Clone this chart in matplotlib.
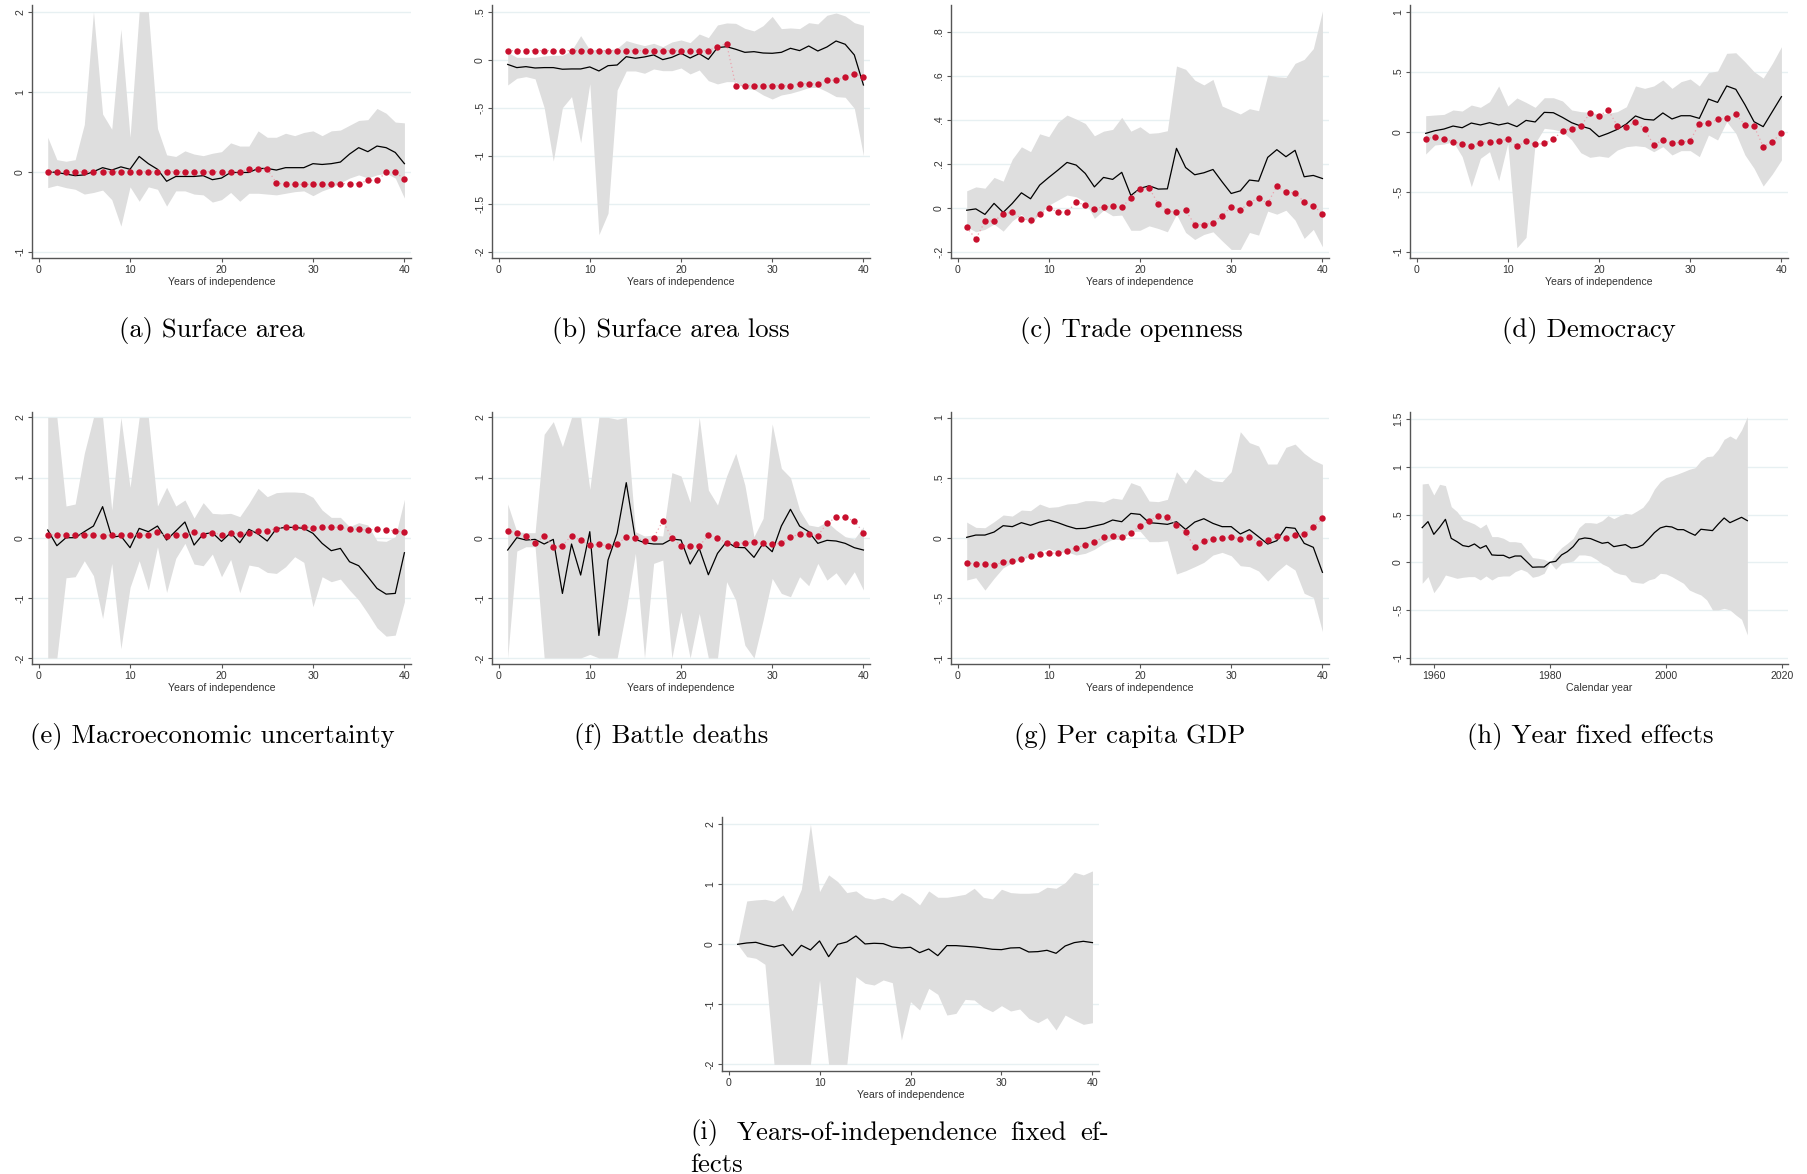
import numpy as np
import matplotlib
matplotlib.use("Agg")
import matplotlib.pyplot as plt

# ---------------------------------------------------------------------------
# Estimates by years of independence (1..40): black line = coefficient,
# grey band = 95% confidence interval, red dots = alternative specification.
# ---------------------------------------------------------------------------
years = np.arange(1, 41)
cal_years = np.arange(1958, 2015)

# (a) Surface area
area_coef = [0.0, -0.01, -0.03, -0.05, -0.04, 0.0, 0.05, 0.02, 0.06, 0.03,
             0.19, 0.1, 0.03, -0.12, -0.06, -0.06, -0.06, -0.05, -0.1, -0.08,
             -0.01, -0.01, -0.01, 0.04, 0.04, 0.02, 0.05, 0.05, 0.05, 0.1,
             0.09, 0.1, 0.12, 0.22, 0.3, 0.25, 0.32, 0.3, 0.24, 0.1]
area_hi = [0.43, 0.15, 0.13, 0.15, 0.59, 2.0, 0.72, 0.53, 1.78, 0.43,
           2.0, 2.0, 0.54, 0.21, 0.19, 0.26, 0.22, 0.2, 0.23, 0.25,
           0.36, 0.32, 0.32, 0.51, 0.43, 0.43, 0.48, 0.45, 0.49, 0.51,
           0.45, 0.51, 0.52, 0.58, 0.64, 0.65, 0.79, 0.73, 0.62, 0.61]
area_lo = [-0.2, -0.17, -0.2, -0.22, -0.28, -0.26, -0.23, -0.35, -0.68, -0.19,
           -0.37, -0.19, -0.22, -0.43, -0.24, -0.24, -0.28, -0.29, -0.38, -0.35,
           -0.26, -0.37, -0.27, -0.27, -0.28, -0.29, -0.27, -0.25, -0.24, -0.3,
           -0.24, -0.2, -0.14, -0.08, -0.04, -0.08, -0.04, -0.02, -0.08, -0.33]
area_alt = [0.0, 0.0, 0.0, 0.0, 0.0, 0.0, 0.0, 0.0, 0.0, 0.0,
            0.0, 0.0, 0.0, 0.0, 0.0, 0.0, 0.0, 0.0, 0.0, 0.0,
            0.0, 0.0, 0.033, 0.033, 0.033, -0.14, -0.16, -0.16, -0.16, -0.16,
            -0.16, -0.16, -0.15, -0.15, -0.15, -0.11, -0.11, -0.01, -0.01, -0.09]

# (b) Surface area loss
loss_coef = [-0.05, -0.083, -0.073, -0.087, -0.083, -0.083, -0.1, -0.097, -0.097, -0.076,
             -0.118, -0.063, -0.056, 0.031, 0.014, 0.028, 0.049, 0.0, 0.024, 0.066,
             0.017, 0.062, 0.003, 0.125, 0.135, 0.108, 0.076, 0.083, 0.069, 0.066,
             0.076, 0.118, 0.094, 0.142, 0.09, 0.132, 0.194, 0.16, 0.049, -0.264]
loss_hi = [0.076, 0.024, 0.024, 0.024, 0.038, 0.045, 0.045, 0.094, 0.25, 0.1,
           0.104, 0.1, 0.118, 0.198, 0.17, 0.146, 0.17, 0.135, 0.184, 0.205,
           0.177, 0.267, 0.229, 0.361, 0.382, 0.378, 0.326, 0.299, 0.354, 0.45,
           0.323, 0.33, 0.323, 0.385, 0.372, 0.462, 0.486, 0.455, 0.385, 0.358]
loss_lo = [-0.264, -0.194, -0.177, -0.2, -0.5, -1.056, -0.5, -0.385, -0.865, -0.25,
           -1.823, -1.6, -0.316, -0.118, -0.118, -0.142, -0.097, -0.115, -0.115, -0.087,
           -0.149, -0.108, -0.219, -0.253, -0.229, -0.229, -0.3, -0.31, -0.368, -0.41,
           -0.368, -0.35, -0.323, -0.292, -0.288, -0.333, -0.385, -0.392, -0.507, -1.0]
loss_alt = [0.094, 0.094, 0.094, 0.094, 0.094, 0.094, 0.094, 0.094, 0.094, 0.094,
            0.094, 0.094, 0.094, 0.094, 0.094, 0.094, 0.094, 0.094, 0.094, 0.094,
            0.094, 0.094, 0.094, 0.135, 0.167, -0.27, -0.27, -0.27, -0.27, -0.27,
            -0.27, -0.27, -0.25, -0.25, -0.25, -0.215, -0.215, -0.18, -0.146, -0.18]

# (c) Trade openness
trade_coef = [-0.011, -0.005, -0.03, 0.02, -0.021, 0.02, 0.068, 0.041, 0.103, 0.138,
              0.171, 0.206, 0.194, 0.156, 0.095, 0.138, 0.129, 0.161, 0.056, 0.088,
              0.1, 0.085, 0.086, 0.27, 0.183, 0.15, 0.159, 0.174, 0.118, 0.065,
              0.077, 0.126, 0.121, 0.229, 0.264, 0.232, 0.261, 0.141, 0.147, 0.133]
trade_hi = [0.077, 0.095, 0.089, 0.138, 0.121, 0.221, 0.277, 0.255, 0.336, 0.323,
            0.388, 0.421, 0.403, 0.383, 0.327, 0.348, 0.356, 0.411, 0.348, 0.368,
            0.338, 0.341, 0.35, 0.644, 0.629, 0.58, 0.558, 0.583, 0.462, 0.444,
            0.426, 0.45, 0.441, 0.603, 0.595, 0.592, 0.656, 0.674, 0.723, 0.894]
trade_lo = [-0.086, -0.109, -0.098, -0.074, -0.106, -0.059, -0.029, -0.076, -0.026, 0.012,
            0.035, 0.058, 0.05, 0.027, -0.048, -0.011, -0.036, -0.033, -0.102, -0.102,
            -0.082, -0.094, -0.109, -0.03, -0.112, -0.144, -0.121, -0.109, -0.15, -0.189,
            -0.189, -0.112, -0.124, -0.015, -0.029, -0.011, -0.056, -0.139, -0.098, -0.177]
trade_alt = [-0.088, -0.142, -0.062, -0.059, -0.03, -0.018, -0.05, -0.055, -0.03, -0.003,
             -0.018, -0.021, 0.026, 0.012, -0.005, 0.005, 0.006, 0.002, 0.045, 0.086,
             0.091, 0.017, -0.015, -0.02, -0.012, -0.076, -0.077, -0.068, -0.036, 0.005,
             -0.011, 0.024, 0.044, 0.02, 0.098, 0.07, 0.068, 0.026, 0.009, -0.026]

# (d) Democracy
demo_coef = [-0.014, 0.008, 0.022, 0.047, 0.033, 0.072, 0.056, 0.075, 0.056, 0.072,
             0.042, 0.094, 0.081, 0.161, 0.158, 0.119, 0.075, 0.047, 0.025, -0.042,
             -0.014, 0.019, 0.064, 0.131, 0.103, 0.097, 0.156, 0.106, 0.133, 0.133,
             0.111, 0.272, 0.244, 0.381, 0.353, 0.225, 0.083, 0.042, 0.167, 0.292]
demo_hi = [0.133, 0.139, 0.144, 0.181, 0.172, 0.222, 0.203, 0.25, 0.381, 0.214,
           0.281, 0.244, 0.203, 0.283, 0.283, 0.256, 0.181, 0.167, 0.161, 0.147,
           0.153, 0.167, 0.208, 0.381, 0.361, 0.381, 0.431, 0.361, 0.417, 0.439,
           0.381, 0.492, 0.506, 0.653, 0.658, 0.583, 0.5, 0.447, 0.569, 0.708]
demo_lo = [-0.186, -0.111, -0.103, -0.083, -0.208, -0.458, -0.222, -0.167, -0.408, -0.097,
           -0.967, -0.881, -0.097, 0.028, 0.019, 0.0, -0.069, -0.175, -0.214, -0.203,
           -0.214, -0.153, -0.125, -0.117, -0.125, -0.167, -0.125, -0.194, -0.158, -0.158,
           -0.208, -0.028, -0.069, 0.083, -0.014, -0.194, -0.306, -0.453, -0.353, -0.236]
demo_alt = [-0.061, -0.042, -0.064, -0.083, -0.103, -0.117, -0.092, -0.083, -0.078, -0.064,
            -0.122, -0.081, -0.106, -0.097, -0.064, 0.008, 0.025, 0.047, 0.153, 0.128,
            0.183, 0.05, 0.036, 0.083, 0.019, -0.111, -0.069, -0.094, -0.089, -0.075,
            0.067, 0.069, 0.103, 0.111, 0.144, 0.056, 0.047, -0.125, -0.086, -0.008]

# (e) Macroeconomic uncertainty
macro_coef = [0.128, -0.133, 0.0, 0.0, 0.1, 0.194, 0.516, 0.011, 0.028, -0.166,
              0.155, 0.1, 0.194, -0.039, 0.111, 0.261, -0.122, 0.061, 0.083, -0.061,
              0.083, -0.083, 0.139, 0.061, -0.055, 0.15, 0.172, 0.172, 0.155, 0.072,
              -0.094, -0.216, -0.178, -0.4, -0.466, -0.649, -0.843, -0.938, -0.926, -0.25]
macro_hi = [2.0, 2.0, 0.527, 0.56, 1.404, 2.0, 2.0, 0.46, 2.0, 0.838,
            2.0, 2.0, 0.527, 0.838, 0.527, 0.627, 0.327, 0.583, 0.405, 0.394,
            0.405, 0.35, 0.571, 0.821, 0.682, 0.749, 0.76, 0.76, 0.749, 0.671,
            0.46, 0.338, 0.338, 0.183, 0.25, 0.211, -0.05, -0.061, 0.017, 0.638]
macro_lo = [-2.0, -2.0, -0.666, -0.649, -0.383, -0.632, -1.343, -0.427, -1.847, -0.827,
            -0.383, -0.871, -0.15, -0.91, -0.344, -0.094, -0.438, -0.466, -0.272, -0.649,
            -0.361, -0.915, -0.455, -0.483, -0.577, -0.594, -0.483, -0.316, -0.41, -1.148,
            -0.649, -0.732, -0.688, -0.871, -1.037, -1.259, -1.498, -1.637, -1.62, -1.065]
macro_alt = [0.039, 0.05, 0.05, 0.039, 0.05, 0.039, 0.028, 0.05, 0.05, 0.039,
             0.05, 0.039, 0.094, 0.022, 0.05, 0.05, 0.094, 0.05, 0.083, 0.05,
             0.083, 0.067, 0.083, 0.111, 0.117, 0.15, 0.183, 0.183, 0.183, 0.166,
             0.183, 0.172, 0.172, 0.139, 0.139, 0.128, 0.144, 0.133, 0.111, 0.094]

# (f) Battle deaths
battle_coef = [-0.205, 0.0, -0.039, -0.028, -0.105, -0.028, -0.927, -0.105, -0.621, 0.1,
               -1.626, -0.372, 0.072, 0.915, -0.028, -0.083, -0.105, -0.105, -0.022, -0.039,
               -0.438, -0.178, -0.616, -0.261, -0.067, -0.161, -0.166, -0.327, -0.094, -0.233,
               0.194, 0.472, 0.194, 0.1, -0.094, -0.044, -0.055, -0.094, -0.166, -0.205]
battle_hi = [0.56, 0.1, 0.083, 0.083, 1.72, 1.93, 1.515, 2.0, 2.0, 0.804,
             2.0, 2.0, 1.97, 2.0, 0.1, 0.028, 0.044, 0.028, 1.082, 1.026,
             0.588, 2.0, 0.793, 0.544, 1.026, 1.404, 0.877, 0.017, 0.322, 1.892,
             1.154, 0.999, 0.46, 0.211, 0.183, 0.266, 0.128, 0.017, -0.022, 0.183]
battle_lo = [-2.0, -0.222, -0.15, -0.15, -2.0, -2.0, -2.0, -2.0, -2.0, -1.94,
             -2.0, -2.0, -2.0, -1.2, -0.26, -2.0, -0.427, -0.372, -2.0, -1.232,
             -2.0, -1.26, -2.0, -2.0, -0.732, -1.037, -1.786, -2.0, -1.37, -0.677,
             -0.926, -0.982, -0.649, -0.799, -0.427, -0.705, -0.583, -0.788, -0.566, -0.871]
battle_alt = [0.111, 0.083, 0.028, -0.083, 0.022, -0.15, -0.133, 0.033, -0.044, -0.128,
              -0.111, -0.139, -0.111, 0.017, 0.0, -0.055, 0.0, 0.277, 0.0, -0.133,
              -0.133, -0.139, 0.039, 0.0, -0.094, -0.105, -0.083, -0.072, -0.094, -0.105,
              -0.094, 0.017, 0.055, 0.055, 0.033, 0.239, 0.338, 0.338, 0.277, 0.083]

# (g) Per capita GDP
gdp_coef = [0.003, 0.022, 0.022, 0.047, 0.1, 0.092, 0.125, 0.103, 0.13, 0.147,
            0.125, 0.097, 0.075, 0.078, 0.097, 0.114, 0.147, 0.133, 0.202, 0.194,
            0.125, 0.119, 0.111, 0.133, 0.069, 0.13, 0.158, 0.119, 0.092, 0.092,
            0.031, 0.067, 0.008, -0.053, -0.025, 0.086, 0.078, -0.047, -0.08, -0.288]
gdp_hi = [0.13, 0.086, 0.083, 0.133, 0.189, 0.18, 0.23, 0.225, 0.28, 0.252,
          0.258, 0.28, 0.286, 0.308, 0.308, 0.297, 0.33, 0.319, 0.458, 0.43,
          0.305, 0.3, 0.319, 0.549, 0.452, 0.571, 0.513, 0.474, 0.466, 0.549,
          0.882, 0.791, 0.763, 0.613, 0.613, 0.752, 0.779, 0.702, 0.646, 0.61]
gdp_lo = [-0.352, -0.333, -0.436, -0.338, -0.25, -0.208, -0.18, -0.158, -0.117, -0.089,
          -0.122, -0.117, -0.144, -0.13, -0.097, -0.047, -0.014, -0.014, 0.05, 0.055,
          -0.033, -0.033, -0.025, -0.302, -0.275, -0.241, -0.205, -0.144, -0.122, -0.15,
          -0.233, -0.241, -0.277, -0.361, -0.283, -0.219, -0.269, -0.463, -0.497, -0.782]
gdp_alt = [-0.211, -0.216, -0.222, -0.227, -0.205, -0.191, -0.175, -0.15, -0.133, -0.125,
           -0.13, -0.111, -0.083, -0.064, -0.039, 0.008, 0.017, 0.008, 0.036, 0.1,
           0.139, 0.183, 0.175, 0.105, 0.044, -0.078, -0.025, -0.011, 0.0, 0.003,
           -0.008, 0.008, -0.044, -0.019, 0.014, 0.0, 0.019, 0.028, 0.086, 0.161]

# (h) Year fixed effects, 1958-2014
yfe_coef = [0.363, 0.426, 0.293, 0.366, 0.45, 0.251, 0.216, 0.175, 0.164, 0.192,
            0.147, 0.175, 0.077, 0.073, 0.073, 0.045, 0.066, 0.066, 0.007, -0.052,
            -0.049, -0.049, 0.0, 0.01, 0.077, 0.112, 0.164, 0.241, 0.255, 0.248,
            0.223, 0.199, 0.209, 0.164, 0.175, 0.185, 0.15, 0.157, 0.182, 0.244,
            0.311, 0.36, 0.377, 0.37, 0.342, 0.342, 0.311, 0.283, 0.346, 0.339,
            0.332, 0.401, 0.464, 0.415, 0.443, 0.471, 0.436]
yfe_hi = [0.82, 0.827, 0.705, 0.817, 0.803, 0.583, 0.531, 0.45, 0.426, 0.401,
          0.36, 0.401, 0.269, 0.269, 0.251, 0.216, 0.216, 0.206, 0.129, 0.049,
          0.042, 0.031, 0.0, 0.087, 0.154, 0.199, 0.251, 0.363, 0.415, 0.415,
          0.408, 0.436, 0.489, 0.457, 0.489, 0.513, 0.503, 0.538, 0.576, 0.653,
          0.768, 0.845, 0.887, 0.904, 0.925, 0.949, 0.974, 0.991, 1.065, 1.106,
          1.113, 1.183, 1.288, 1.323, 1.288, 1.386, 1.525]
yfe_lo = [-0.22, -0.15, -0.318, -0.237, -0.133, -0.15, -0.168, -0.157, -0.15, -0.15,
          -0.185, -0.143, -0.185, -0.15, -0.143, -0.143, -0.098, -0.073, -0.098, -0.157,
          -0.143, -0.115, 0.0, -0.073, -0.01, 0.0, 0.014, 0.077, 0.077, 0.066,
          0.031, -0.017, -0.045, -0.098, -0.122, -0.133, -0.202, -0.213, -0.22, -0.185,
          -0.168, -0.115, -0.122, -0.15, -0.185, -0.22, -0.29, -0.318, -0.342, -0.394,
          -0.499, -0.499, -0.482, -0.499, -0.551, -0.597, -0.761]

# (i) Years-of-independence fixed effects
ife_coef = [0.0, 0.022, 0.033, -0.011, -0.044, -0.006, -0.189, -0.017, -0.094, 0.056,
            -0.206, 0.0, 0.039, 0.139, 0.006, 0.017, 0.011, -0.044, -0.061, -0.05,
            -0.139, -0.078, -0.189, -0.022, -0.022, -0.033, -0.044, -0.061, -0.083, -0.089,
            -0.061, -0.056, -0.128, -0.122, -0.1, -0.15, -0.028, 0.028, 0.05, 0.028]
ife_hi = [0.0, 0.722, 0.739, 0.75, 0.717, 0.822, 0.556, 0.917, 2.0, 0.878,
          1.156, 1.044, 0.861, 0.889, 0.778, 0.75, 0.783, 0.728, 0.861, 0.783,
          0.656, 0.889, 0.783, 0.783, 0.806, 0.833, 0.933, 0.783, 0.756, 0.917,
          0.861, 0.85, 0.85, 0.861, 0.95, 0.933, 1.028, 1.2, 1.156, 1.222]
ife_lo = [0.0, -0.206, -0.233, -0.333, -2.0, -2.0, -2.0, -2.0, -2.0, -0.594,
          -2.0, -2.0, -2.0, -0.539, -0.65, -0.678, -0.594, -0.639, -1.594, -0.956,
          -1.094, -0.733, -0.833, -1.178, -1.15, -0.917, -0.928, -1.05, -1.122, -1.022,
          -1.111, -1.078, -1.233, -1.306, -1.222, -1.428, -1.178, -1.261, -1.333, -1.306]

# Axis ticks for each panel
ticks_a = [-1, 0, 1, 2]
ticks_b = [-2, -1.5, -1, -0.5, 0, 0.5]
ticks_c = [-0.2, 0, 0.2, 0.4, 0.6, 0.8]
ticks_d = [-1, -0.5, 0, 0.5, 1]
ticks_e = [-2, -1, 0, 1, 2]
ticks_h = [-1, -0.5, 0, 0.5, 1, 1.5]
xticks_ind = [0, 10, 20, 30, 40]
xticks_cal = [1960, 1980, 2000, 2020]

captions = ["(a) Surface area", "(b) Surface area loss", "(c) Trade openness",
            "(d) Democracy", "(e) Macroeconomic uncertainty", "(f) Battle deaths",
            "(g) Per capita GDP", "(h) Year fixed effects"]
caption_i_line1 = ["(i)", "Years-of-independence", "fixed", "ef-"]
caption_i_line2 = "fects"

# ---------------------------------------------------------------------------
W, H = 1807, 1174
fig = plt.figure(figsize=(W / 100, H / 100), dpi=100)
fig.patch.set_facecolor("white")

BAND = "#dedede"
RED = "#c8102e"
PINK = "#eba3ae"
GRID = "#e7f0f2"
SPINE = "#555555"
TXT = "#333333"
SANS = ["Liberation Sans", "DejaVu Sans"]
SERIF = ["cmr10", "DejaVu Serif"]


def stata_label(v):
    s = f"{v:g}"
    if s.startswith("0.") and v != 0:
        s = s[1:]
    elif s.startswith("-0."):
        s = "-" + s[2:]
    return s


def panel(box, x, coef, lo, hi, alt, yticks, ylim, xticks, xlim, xlabel):
    left, top, right, bottom = box
    ax = fig.add_axes([left / W, 1 - bottom / H, (right - left) / W, (bottom - top) / H])
    ax.set_facecolor("white")
    ax.fill_between(x, lo, hi, color=BAND, lw=0, zorder=1)
    ax.plot(x, coef, color="black", lw=0.9, zorder=3)
    if alt is not None:
        ax.plot(x, alt, color=PINK, lw=0.9, ls=(0, (1, 2.2)), zorder=4)
        ax.plot(x, alt, ls="none", marker="o", ms=4.6, mfc=RED, mec=RED, mew=0, zorder=5)
    ax.set_xlim(*xlim)
    ax.set_ylim(*ylim)
    ax.set_yticks(yticks)
    ax.set_yticklabels([stata_label(t) for t in yticks])
    ax.set_xticks(xticks)
    ax.set_xticklabels([str(t) for t in xticks])
    ax.grid(axis="y", color=GRID, lw=1.0, zorder=0)
    ax.set_axisbelow(True)
    for side in ("top", "right"):
        ax.spines[side].set_visible(False)
    for side in ("left", "bottom"):
        ax.spines[side].set_color(SPINE)
        ax.spines[side].set_linewidth(1.0)
    ax.tick_params(direction="out", length=3, width=0.8, color=SPINE,
                   labelsize=7.6, labelcolor=TXT, pad=2)
    for lab in ax.get_yticklabels():
        lab.set_rotation(90)
        lab.set_va("center")
        lab.set_ha("right")
        lab.set_family(SANS)
    for lab in ax.get_xticklabels():
        lab.set_family(SANS)
    ax.set_xlabel(xlabel, fontsize=7.6, color=TXT, family=SANS, labelpad=1.5)
    return ax


XL_IND = (-0.72, 40.72)
XL_CAL = (1955.9, 2021.0)
XLAB = "Years of independence"

cols = [(32, 411), (492, 870), (951, 1329), (1410, 1788)]
row1 = (5, 258)
row2 = (412, 664)

panel((cols[0][0], row1[0], cols[0][1], row1[1]), years, area_coef, area_lo, area_hi, area_alt,
      ticks_a, (-1.079, 2.083), xticks_ind, XL_IND, XLAB)
panel((cols[1][0], row1[0], cols[1][1], row1[1]), years, loss_coef, loss_lo, loss_hi, loss_alt,
      ticks_b, (-2.066, 0.569), xticks_ind, XL_IND, XLAB)
panel((cols[2][0], row1[0], cols[2][1], row1[1]), years, trade_coef, trade_lo, trade_hi, trade_alt,
      ticks_c, (-0.228, 0.921), xticks_ind, XL_IND, XLAB)
panel((cols[3][0], row1[0], cols[3][1], row1[1]), years, demo_coef, demo_lo, demo_hi, demo_alt,
      ticks_d, (-1.053, 1.056), xticks_ind, XL_IND, XLAB)

panel((cols[0][0], row2[0], cols[0][1], row2[1]), years, macro_coef, macro_lo, macro_hi, macro_alt,
      ticks_e, (-2.10, 2.09), xticks_ind, XL_IND, XLAB)
panel((cols[1][0], row2[0], cols[1][1], row2[1]), years, battle_coef, battle_lo, battle_hi, battle_alt,
      ticks_e, (-2.10, 2.09), xticks_ind, XL_IND, XLAB)
panel((cols[2][0], row2[0], cols[2][1], row2[1]), years, gdp_coef, gdp_lo, gdp_hi, gdp_alt,
      ticks_d, (-1.051, 1.046), xticks_ind, XL_IND, XLAB)
panel((cols[3][0], row2[0], cols[3][1], row2[1]), cal_years, yfe_coef, yfe_lo, yfe_hi, None,
      ticks_h, (-1.065, 1.574), xticks_cal, XL_CAL, "Calendar year")

panel((722, 817, 1099, 1071), years, ife_coef, ife_lo, ife_hi, None,
      ticks_e, (-2.11, 2.12), xticks_ind, XL_IND, XLAB)

# Sub-figure captions
cap_x = [212, 671, 1131, 1589, 212, 671, 1130, 1590]
cap_y = [330, 330, 330, 330, 737, 737, 737, 737]
CAP_FS = 19.2
for text, cx, cy in zip(captions, cap_x, cap_y):
    fig.text(cx / W, 1 - cy / H, text, ha="center", va="center",
             fontsize=CAP_FS, family=SERIF, color="black")

# Justified two-line caption of panel (i)
word_x = [690, 737, 1010, 1080]
for word, wx in zip(caption_i_line1, word_x):
    fig.text(wx / W, 1 - 1133 / H, word, ha="left", va="center",
             fontsize=CAP_FS, family=SERIF, color="black")
fig.text(690 / W, 1 - 1165 / H, caption_i_line2, ha="left", va="center",
         fontsize=CAP_FS, family=SERIF, color="black")

fig.savefig("out.png", dpi=100, facecolor="white")
